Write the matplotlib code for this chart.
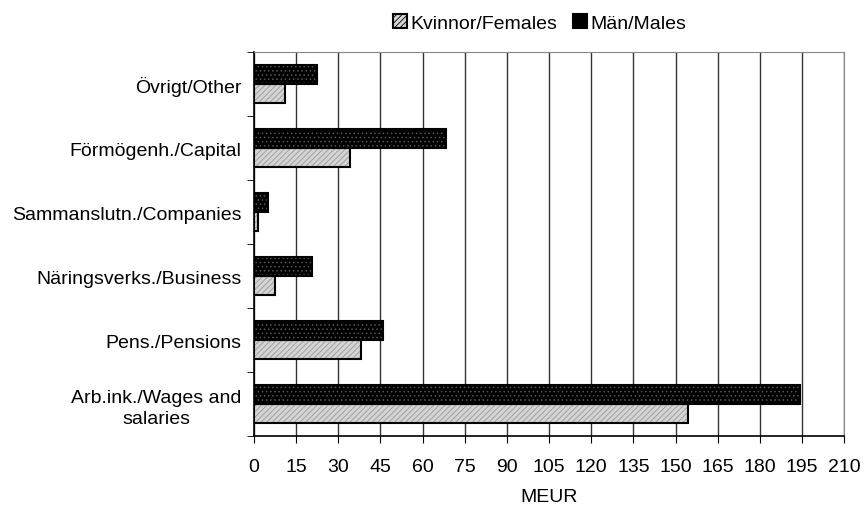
import numpy as np
import matplotlib
matplotlib.use('Agg')
import matplotlib.pyplot as plt
from matplotlib.patches import Patch

plt.rcParams['font.family'] = ['Liberation Sans', 'DejaVu Sans']
plt.rcParams['hatch.linewidth'] = 0.6

categories = ['Arb.ink./Wages and\nsalaries', 'Pens./Pensions', 'Näringsverks./Business',
              'Sammanslutn./Companies', 'Förmögenh./Capital', 'Övrigt/Other']
females = [154.4, 38.0, 7.5, 1.4, 34.2, 11.0]
males = [194.3, 45.9, 20.6, 5.0, 68.3, 22.4]
xticks = list(range(0, 211, 15))

fs = 14

fig = plt.figure(figsize=(8.64, 5.06), dpi=100)
ax = fig.add_axes([0.294, 0.136, 0.683, 0.759])

y = np.arange(len(categories))
h = 0.3

# females: light gray with fine diagonal hatch
ax.barh(y - h / 2, females, height=h, color='#d4d4d4', edgecolor='#999999',
        hatch='//////', linewidth=0, zorder=3)
ax.barh(y - h / 2, females, height=h, fill=False, edgecolor='black', linewidth=1.5, zorder=4)
# males: black with dark dots
ax.barh(y + h / 2, males, height=h, color='black', edgecolor='#555555',
        hatch='....', linewidth=0, zorder=3)
ax.barh(y + h / 2, males, height=h, fill=False, edgecolor='black', linewidth=1.5, zorder=4)

ax.set_xlim(0, 210)
ax.set_ylim(-0.5, len(categories) - 0.5)
ax.set_xticks(xticks)
ax.set_xticklabels([str(t) for t in xticks], fontsize=fs)
ax.set_yticks(y)
ax.set_yticklabels(categories, fontsize=fs, multialignment='center', linespacing=1.3)
ax.tick_params(axis='y', length=0, pad=9)
ax.set_yticks(np.arange(-0.5, len(categories), 1), minor=True)
ax.tick_params(axis='y', which='minor', length=5, direction='out')
ax.tick_params(axis='x', length=5, direction='out', pad=11)

ax.grid(axis='x', color='#333333', linewidth=1, zorder=0)
ax.set_axisbelow(True)
for s in ['top', 'right']:
    ax.spines[s].set_color('#888888')
for s in ['left', 'bottom']:
    ax.spines[s].set_color('black')
    ax.spines[s].set_linewidth(1.2)

ax.set_xlabel('MEUR', fontsize=fs, labelpad=9)

handles = [Patch(facecolor='#d4d4d4', edgecolor='black', hatch='//////', linewidth=1.5, label='Kvinnor/Females'),
           Patch(facecolor='black', edgecolor='black', hatch='....', linewidth=1.5, label='Män/Males')]
fig.legend(handles=handles, loc='upper center', bbox_to_anchor=(0.625, 1.005), ncol=2, frameon=False,
           fontsize=fs, handlelength=0.7, handleheight=0.7, handletextpad=0.2, columnspacing=0.8)

fig.savefig('out.png', dpi=100)
